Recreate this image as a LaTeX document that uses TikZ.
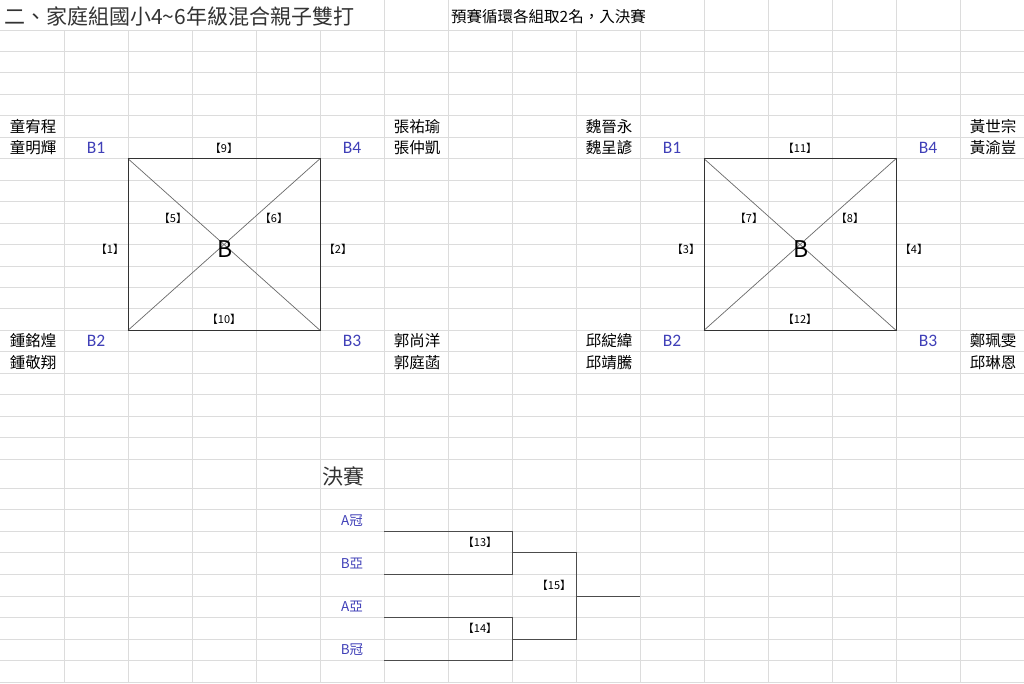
\documentclass[tikz,border=0pt]{standalone}
\usepackage{fontspec}
\setmainfont{Noto Sans CJK TC}
\newfontfamily\latinfont{Carlito}
\usetikzlibrary{positioning}
\definecolor{gridgray}{RGB}{220,220,220}
\definecolor{seedblue}{RGB}{64,64,184}
\definecolor{crossgray}{RGB}{105,105,105}
\tikzstyle{gridline} = [draw=gridgray, line width=0.9pt]
\tikzstyle{boxline} = [draw=black!80, line width=1pt]
\tikzstyle{crossline} = [draw=crossgray, line width=0.7pt]
\tikzstyle{drawline} = [draw=black!70, line width=1pt]

\begin{document}
\begin{tikzpicture}[x=1pt, y=-1pt, node distance={21.45pt},
  player/.style = {inner sep=0, font=\fontsize{15.5}{16}\selectfont},
  seed/.style = {inner sep=0, text=seedblue, font=\latinfont\fontsize{17.5}{18}\selectfont},
  seedcjk/.style = {inner sep=0, text=seedblue, font=\fontsize{13.5}{14}\selectfont},
  game/.style = {inner sep=0, font=\fontsize{11}{12}\selectfont},
  pool/.style = {inner sep=0, font=\fontsize{23}{24}\selectfont}]
\useasboundingbox (0,0) rectangle (1024,683);
\fill[white] (0,0) rectangle (1024,683);

% sheet grid
\foreach \c in {1,...,15} \draw[gridline] (64*\c,30) -- (64*\c,683);
\foreach \c in {6,7,11,12,13,14,15} \draw[gridline] (64*\c,0) -- (64*\c,30);
\foreach \r in {0,...,20} \draw[gridline] (0,30+21.45*\r) -- (1024,30+21.45*\r);
\foreach \r in {0,...,9} \draw[gridline] (0,488+21.6*\r) -- (1024,488+21.6*\r);

\node[anchor=west, inner sep=0, font=\fontsize{21}{22}\selectfont, text=black!80] (head) at (4,16) {二、家庭組國小4\textasciitilde 6年級混合親子雙打};
\node[anchor=west, inner sep=0, font=\fontsize{15.5}{16}\selectfont] (rule) at (451,17) {預賽循環各組取2名，入決賽};

% left pool
\node[player] (a1) at (33,126.5) {童宥程};
\node[player] (a2) [below of=a1] {童明輝};
\node[player] (b1) at (417,126.5) {張祐瑜};
\node[player] (b2) [below of=b1] {張仲凱};
\node[player] (c1) at (33,341) {鍾銘煌};
\node[player] (c2) [below of=c1] {鍾敬翔};
\node[player] (d1) at (417,341) {郭尚洋};
\node[player] (d2) [below of=d1] {郭庭菡};
\node[seed] (sA1) at (96,148) {B1};
\node[seed] (sA4) at (352,148) {B4};
\node[seed] (sA2) at (96,341) {B2};
\node[seed] (sA3) at (352,341) {B3};

\coordinate (A-tl) at (128,158.7);
\coordinate (A-tr) at (320,158.7);
\coordinate (A-br) at (320,330.3);
\coordinate (A-bl) at (128,330.3);
\draw[crossline] (A-tl) -- (A-br);
\draw[crossline] (A-tr) -- (A-bl);
\draw[boxline] (A-tl) -- (A-tr) -- (A-br) -- (A-bl) -- cycle;
\node[pool] (A-c) at (225,249.5) {B};
\node[game] (g9) at (224,148) {【9】};
\node[game] (g5) at (173,218) {【5】};
\node[game] (g6) at (274,218) {【6】};
\node[game] (g1) at (110,249) {【1】};
\node[game] (g2) at (338,249) {【2】};
\node[game] (g10) at (224,319) {【10】};

% right pool
\node[player] (e1) at (609,126.5) {魏晉永};
\node[player] (e2) [below of=e1] {魏呈諺};
\node[player] (f1) at (993,126.5) {黃世宗};
\node[player] (f2) [below of=f1] {黃渝豈};
\node[player] (h1) at (609,341) {邱綻緯};
\node[player] (h2) [below of=h1] {邱靖騰};
\node[player] (k1) at (993,341) {鄭珮雯};
\node[player] (k2) [below of=k1] {邱琳恩};
\node[seed] (sB1) at (672,148) {B1};
\node[seed] (sB4) at (928,148) {B4};
\node[seed] (sB2) at (672,341) {B2};
\node[seed] (sB3) at (928,341) {B3};

\coordinate (B-tl) at (704,158.7);
\coordinate (B-tr) at (896,158.7);
\coordinate (B-br) at (896,330.3);
\coordinate (B-bl) at (704,330.3);
\draw[crossline] (B-tl) -- (B-br);
\draw[crossline] (B-tr) -- (B-bl);
\draw[boxline] (B-tl) -- (B-tr) -- (B-br) -- (B-bl) -- cycle;
\node[pool] (B-c) at (801,249.5) {B};
\node[game] (g11) at (800,148) {【11】};
\node[game] (g7) at (749,218) {【7】};
\node[game] (g8) at (850,218) {【8】};
\node[game] (g3) at (686,249) {【3】};
\node[game] (g4) at (914,249) {【4】};
\node[game] (g12) at (800,319) {【12】};

% final
\node[anchor=west, inner sep=0, font=\fontsize{21}{22}\selectfont, text=black!80] (fin) at (322,476) {決賽};
\node[seedcjk] (q1) at (352,520.4) {A冠};
\node[seedcjk] (q2) at (352,563.6) {B亞};
\node[seedcjk] (q3) at (352,606.8) {A亞};
\node[seedcjk] (q4) at (352,650) {B冠};

\coordinate (m1a) at (384,531.2);
\coordinate (m1b) at (512,531.2);
\coordinate (m1c) at (512,574.4);
\coordinate (m1d) at (384,574.4);
\coordinate (m2a) at (384,617.6);
\coordinate (m2b) at (512,617.6);
\coordinate (m2c) at (512,660.8);
\coordinate (m2d) at (384,660.8);
\coordinate (w1) at (512,552.8);
\coordinate (w2) at (512,639.2);
\coordinate (j1) at (576,552.8);
\coordinate (j2) at (576,639.2);
\coordinate (jo) at (576,596);
\coordinate (champ) at (640,596);
\draw[drawline] (m1a) -- (m1b) -- (m1c) -- (m1d);
\draw[drawline] (m2a) -- (m2b) -- (m2c) -- (m2d);
\draw[drawline] (w1) -- (j1) -- (j2) -- (w2);
\draw[drawline] (jo) -- (champ);
\node[game] (g13) at (480,542) {【13】};
\node[game] (g14) at (480,628.4) {【14】};
\node[game] (g15) at (554,585.2) {【15】};
\end{tikzpicture}
\end{document}
